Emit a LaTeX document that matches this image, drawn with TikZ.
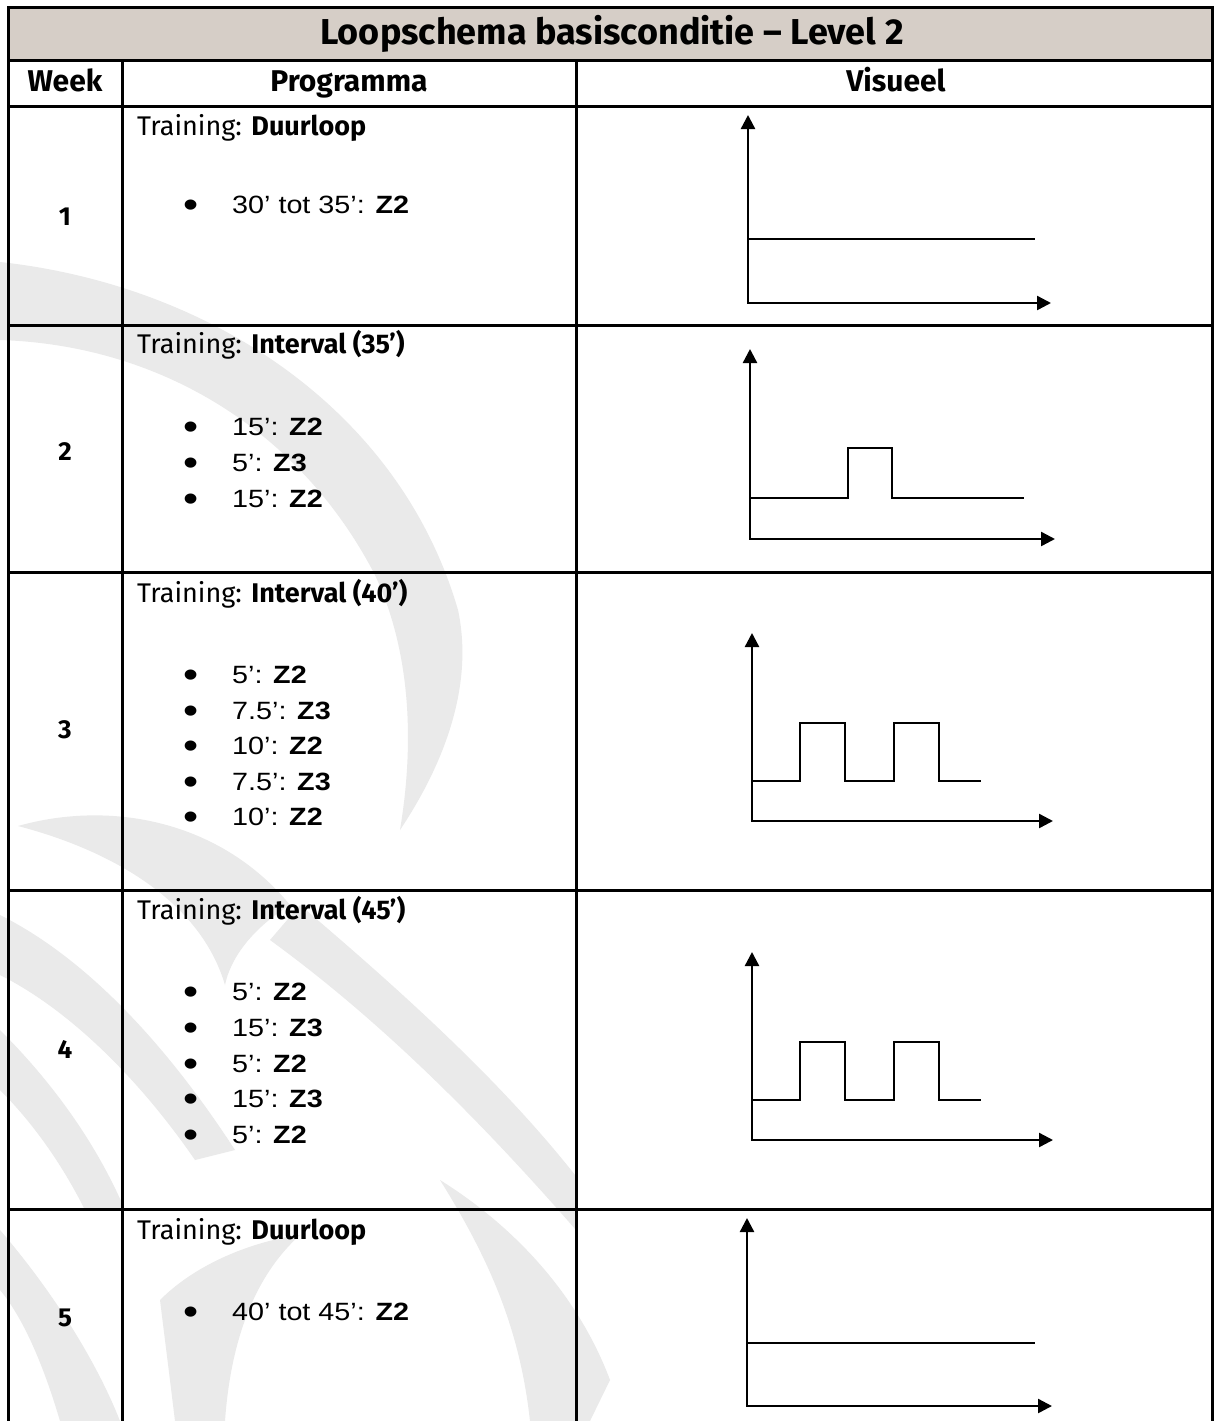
\documentclass[tikz,border=0pt]{standalone}
\usepackage{fontspec}
\usepackage{graphicx}
\setmainfont[FakeStretch=1.15]{Liberation Sans}
\newfontfamily\headfont{Fira Sans}
\usetikzlibrary{arrows.meta}
\definecolor{titlegrey}{RGB}{214,206,199}
\definecolor{wmgrey}{RGB}{234,234,234}
\newcommand\bul{\makebox[49pt][l]{\raisebox{-4pt}{\scalebox{1.5}{•}}}}

\begin{document}
\begin{tikzpicture}[x=1pt,y=-1pt,>={Triangle[length=14pt,width=14pt]},
    grid/.style={line width=3pt},
    axis/.style={<->,line width=2.4pt,line join=miter},
    level/.style={line width=1.6pt},
    wmark/.style={fill=wmgrey},
    heading/.style={font=\headfont\bfseries\fontsize{30}{36}\selectfont,anchor=base,inner sep=0pt},
    weeknr/.style={font=\headfont\bfseries\fontsize{26}{30}\selectfont,anchor=base,inner sep=0pt},
    training/.style={font=\headfont\fontsize{27}{32}\selectfont,anchor=base west,inner sep=0pt},
    item/.style={font=\fontsize{25}{30}\selectfont,anchor=base west,inner sep=0pt}]
  \useasboundingbox (0,0) rectangle (1213,1421);
  \fill[white] (0,0) rectangle (1213,1421);

  % watermark
  \fill[wmark] (0,262) .. controls (210,285) and (400,410) .. (458,610) .. controls (475,690) and (440,770) .. (400,830) .. controls (415,740) and (410,650) .. (375,575) .. controls (300,430) and (160,345) .. (0,340) -- cycle;
  \fill[wmark] (18,826) .. controls (110,800) and (220,820) .. (290,905) .. controls (250,930) and (230,960) .. (225,985) .. controls (200,900) and (110,850) .. (18,826) -- cycle;
  \fill[wmark] (0,915) .. controls (90,960) and (170,1050) .. (235,1150) -- (195,1160) .. controls (140,1080) and (70,1010) .. (0,975) -- cycle;
  \fill[wmark] (0,1030) .. controls (50,1080) and (95,1140) .. (125,1210) -- (85,1210) .. controls (60,1160) and (30,1120) .. (0,1090) -- cycle;
  \fill[wmark] (300,905) .. controls (400,990) and (500,1080) .. (575,1175) -- (576,1230) .. controls (480,1120) and (380,1020) .. (270,940) -- cycle;
  \fill[wmark] (0,1230) .. controls (60,1300) and (100,1370) .. (120,1421) -- (60,1421) .. controls (45,1370) and (25,1320) .. (0,1290) -- cycle;
  \fill[wmark] (160,1300) .. controls (200,1260) and (260,1240) .. (300,1235) .. controls (250,1280) and (230,1350) .. (225,1421) -- (175,1421) .. controls (170,1380) and (165,1340) .. (160,1300) -- cycle;
  \fill[wmark] (440,1180) .. controls (520,1230) and (580,1300) .. (610,1380) -- (590,1421) -- (530,1421) .. controls (520,1330) and (490,1260) .. (440,1180) -- cycle;

  % table
  \fill[titlegrey] (8,8) rectangle (1212,61);
  \draw[grid] (8,1421) -- (8,8) -- (1212,8) -- (1212,1421);
  \foreach \y in {61,106,325,572,890,1209}
    \draw[grid] (8,\y) -- (1212,\y);
  \foreach \x in {122,576}
    \draw[grid] (\x,61) -- (\x,1421);

  \node[heading,font=\headfont\bfseries\fontsize{36}{40}\selectfont] (title) at (612,45) {Loopschema basisconditie – Level 2};
  \node[heading] (week) at (65,92) {Week};
  \node[heading] (prog) at (349,92) {Programma};
  \node[heading] (vis) at (896,92) {Visueel};

  \foreach \n/\y in {1/225,2/460,3/738,4/1058,5/1326}
    \node[weeknr] (w\n) at (65,\y) {\n};

  % programma
  \node[training] (t1) at (137,135) {Training: \textbf{Duurloop}};
  \node[item] (i11) at (183,213) {\bul 30’ tot 35’: \textbf{Z2}};

  \node[training] (t2) at (137,353) {Training: \textbf{Interval (35’)}};
  \node[item] (i21) at (183,435) {\bul 15’: \textbf{Z2}};
  \node[item] (i22) at (183,471) {\bul 5’: \textbf{Z3}};
  \node[item] (i23) at (183,507) {\bul 15’: \textbf{Z2}};

  \node[training] (t3) at (137,602) {Training: \textbf{Interval (40’)}};
  \node[item] (i31) at (183,683) {\bul 5’: \textbf{Z2}};
  \node[item] (i32) at (183,719) {\bul 7.5’: \textbf{Z3}};
  \node[item] (i33) at (183,754) {\bul 10’: \textbf{Z2}};
  \node[item] (i34) at (183,790) {\bul 7.5’: \textbf{Z3}};
  \node[item] (i35) at (183,825) {\bul 10’: \textbf{Z2}};

  \node[training] (t4) at (137,919) {Training: \textbf{Interval (45’)}};
  \node[item] (i41) at (183,1000) {\bul 5’: \textbf{Z2}};
  \node[item] (i42) at (183,1036) {\bul 15’: \textbf{Z3}};
  \node[item] (i43) at (183,1072) {\bul 5’: \textbf{Z2}};
  \node[item] (i44) at (183,1107) {\bul 15’: \textbf{Z3}};
  \node[item] (i45) at (183,1143) {\bul 5’: \textbf{Z2}};

  \node[training] (t5) at (137,1239) {Training: \textbf{Duurloop}};
  \node[item] (i51) at (183,1320) {\bul 40’ tot 45’: \textbf{Z2}};

  % visueel
  \draw[axis] (748,115) -- (748,303) -- (1051,303);
  \draw[level] (748,239) -- (1035,239);

  \draw[axis] (750,349) -- (750,539) -- (1055,539);
  \draw[level] (750,498) -| (848,448) -| (892,498) -- (1024,498);

  \foreach \dy in {0,319}{
    \begin{scope}[yshift=-\dy]
      \draw[axis] (752,633) -- (752,821) -- (1053,821);
      \draw[level] (752,781) -| (800,723) -| (845,781) -| (894,723) -| (939,781) -- (981,781);
    \end{scope}
  }

  \draw[axis] (747,1218) -- (747,1406) -- (1052,1406);
  \draw[level] (747,1343) -- (1035,1343);
\end{tikzpicture}
\end{document}
